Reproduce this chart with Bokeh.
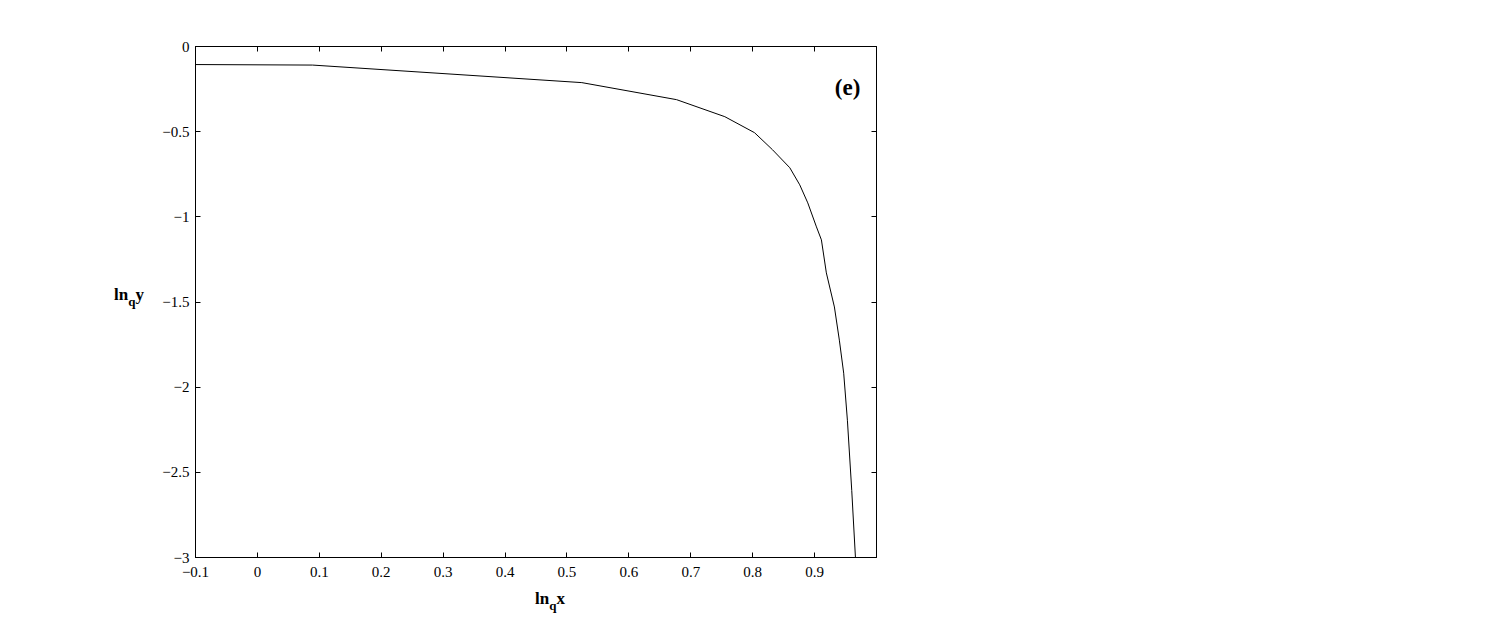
from bokeh.plotting import figure
from bokeh.models import Range1d, FixedTicker, LinearAxis, Label, Div
from bokeh.layouts import column
from bokeh.embed import file_html
from bokeh.resources import INLINE

# data
x_vals = [-0.1, 0.089, 0.524, 0.677, 0.755, 0.803, 0.832, 0.860, 0.876, 0.889,
          0.903, 0.911, 0.919, 0.932, 0.940, 0.947, 0.953, 0.960, 0.966]
y_vals = [-0.106, -0.109, -0.212, -0.312, -0.412, -0.506, -0.606, -0.712, -0.812, -0.918,
          -1.059, -1.135, -1.329, -1.529, -1.724, -1.918, -2.194, -2.606, -3.0]

x_ticks = [-0.1, 0, 0.1, 0.2, 0.3, 0.4, 0.5, 0.6, 0.7, 0.8, 0.9]
x_tick_labels = ["\u22120.1", "0", "0.1", "0.2", "0.3", "0.4", "0.5", "0.6", "0.7", "0.8", "0.9"]
y_ticks = [0, -0.5, -1, -1.5, -2, -2.5, -3]
y_tick_labels = ["0", "\u22120.5", "\u22121", "\u22121.5", "\u22122", "\u22122.5", "\u22123"]

FONT = "Liberation Serif"

p = figure(frame_width=681, frame_height=511,
           min_border_left=195, min_border_top=46, min_border_bottom=70, min_border_right=50,
           x_range=Range1d(-0.1, 1.0), y_range=Range1d(-3, 0),
           output_backend="svg", toolbar_location=None, tools="")
p.xgrid.visible = False
p.ygrid.visible = False
p.outline_line_color = "black"
p.background_fill_color = "white"
p.border_fill_color = "white"

p.line(x_vals, y_vals, line_color="black", line_width=1)

def style(ax, ticks, labels, show_labels, standoff):
    ax.ticker = FixedTicker(ticks=ticks)
    ax.major_label_overrides = {t: l for t, l in zip(ticks, labels)}
    ax.major_tick_in = 5
    ax.major_tick_out = 0
    ax.minor_tick_line_color = None
    ax.axis_line_color = "black"
    ax.major_tick_line_color = "black"
    ax.major_label_text_font = FONT
    ax.major_label_text_font_size = "15px"
    ax.major_label_standoff = standoff
    ax.major_label_text_color = "black" if show_labels else None

style(p.xaxis[0], x_ticks, x_tick_labels, True, 9)
style(p.yaxis[0], y_ticks, y_tick_labels, True, 6)

top = LinearAxis()
style(top, x_ticks, x_tick_labels, False, 6)
p.add_layout(top, "above")
right = LinearAxis()
style(right, y_ticks, y_tick_labels, False, 6)
p.add_layout(right, "right")

# panel tag
p.add_layout(Label(x=0.9532, y=-0.238, text="(e)", text_font=FONT, text_font_style="bold",
                   text_font_size="23px", text_align="center", text_baseline="middle",
                   text_color="black"))

def axis_label_div(main, var, left, top, overlap):
    html = ("<span style=\"font-family:'Liberation Serif';font-weight:bold;font-size:17px;"
            "color:black;white-space:nowrap\">" + main +
            "<span style=\"font-size:13px;position:relative;top:6px;margin-right:" +
            str(-overlap) + "px\">q</span>" + var + "</span>")
    return Div(text=html, styles={"position": "absolute", "left": f"{left}px", "top": f"{top}px"})

xlab = axis_label_div("ln", "x", 530, 582, 0)
ylab = axis_label_div("ln", "y", 109, 278, 0)

layout = column(p, xlab, ylab)
open("out.html", "w").write(file_html(layout, INLINE))
